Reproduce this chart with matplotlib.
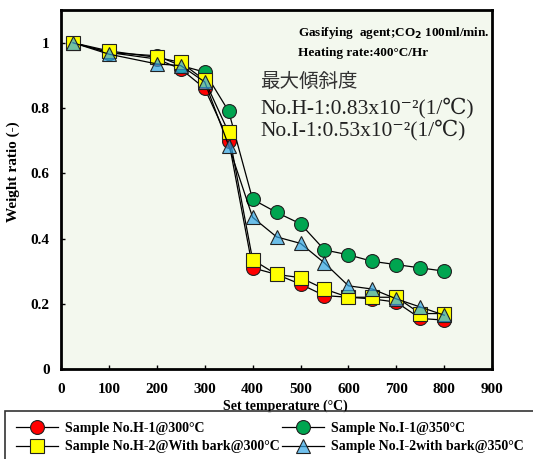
import numpy as np
import matplotlib.pyplot as plt

plt.rcParams['font.family'] = ['Liberation Serif', 'DejaVu Serif']

temp = [25, 100, 200, 250, 300, 350, 400, 450, 500, 550, 600, 650, 700, 750, 800]
h1 = [1.0, 0.97, 0.95, 0.92, 0.86, 0.70, 0.31, 0.29, 0.26, 0.225, 0.22, 0.215, 0.205, 0.155, 0.15]
i1 = [1.0, 0.97, 0.96, 0.93, 0.91, 0.79, 0.52, 0.48, 0.445, 0.365, 0.35, 0.33, 0.32, 0.31, 0.30]
h2 = [1.0, 0.975, 0.955, 0.94, 0.885, 0.725, 0.335, 0.29, 0.28, 0.245, 0.22, 0.22, 0.22, 0.17, 0.17]
i2 = [1.0, 0.965, 0.935, 0.93, 0.88, 0.685, 0.465, 0.405, 0.385, 0.325, 0.255, 0.245, 0.215, 0.19, 0.165]

labels = ['Sample No.H-1@300°C', 'Sample No.I-1@350°C',
          'Sample No.H-2@With bark@300°C', 'Sample No.I-2with bark@350°C']

fig = plt.figure(figsize=(5.33, 4.59), dpi=100)
ax = fig.add_axes([0.1144, 0.196, 0.809, 0.782])
ax.set_facecolor('#f3f8ee')

kw = dict(color='black', lw=0.9, markeredgecolor='#222222', markeredgewidth=0.8)
l1, = ax.plot(temp, h1, marker='o', ms=10, markerfacecolor='#ff0000', label=labels[0], **kw)
l2, = ax.plot(temp, i1, marker='o', ms=10, markerfacecolor='#00a550', label=labels[1], **kw)
l3, = ax.plot(temp, h2, marker='s', ms=10, markerfacecolor='#ffff00', label=labels[2], **kw)
l4, = ax.plot(temp, i2, marker='^', ms=10, markerfacecolor=(0.2, 0.65, 0.9, 0.7), label=labels[3], **kw)

ax.set_xlim(0, 900)
ax.set_ylim(0, 1.1)
ax.set_xticks(np.arange(0, 901, 100))
ax.set_yticks([0, 0.2, 0.4, 0.6, 0.8, 1])
ax.set_yticklabels(['0', '0.2', '0.4', '0.6', '0.8', '1'])
ax.tick_params(direction='in', length=3, width=1, labelsize=11)
ax.tick_params(axis='x', pad=10)
ax.tick_params(axis='y', pad=8)
for t in ax.get_xticklabels() + ax.get_yticklabels():
    t.set_fontweight('bold')
for s in ax.spines.values():
    s.set_linewidth(2)

ax.set_xlabel('Set temperature (°C)', fontsize=10, fontweight='bold')
ax.xaxis.set_label_coords(0.52, -0.085)
ax.set_ylabel('Weight ratio (-)', fontsize=11, fontweight='bold')
ax.yaxis.set_label_coords(-0.095, 0.55)

ax.text(0.995, 0.935, 'Gasifying  agent;CO$_\\mathbf{2}$ 100ml/min.', transform=ax.transAxes,
        ha='right', va='center', fontsize=9.5, fontweight='bold')
ax.text(0.55, 0.88, 'Heating rate:400°C/Hr', transform=ax.transAxes,
        ha='left', va='center', fontsize=9.5, fontweight='bold')
fam = ['Liberation Serif', 'DejaVu Serif', 'DejaVu Sans']
ax.text(0.462, 0.802, '最大傾斜度', transform=ax.transAxes, ha='left', va='center',
        fontsize=14, color='#333333', family=['Noto Sans CJK JP'])
ax.text(0.462, 0.727, 'No.H-1:0.83x10⁻²(1/℃)', transform=ax.transAxes, ha='left',
        va='center', fontsize=15.5, color='#222222', family=fam)
ax.text(0.462, 0.666, 'No.I-1:0.53x10⁻²(1/℃)', transform=ax.transAxes, ha='left',
        va='center', fontsize=15.5, color='#222222', family=fam)

leg = fig.legend(handles=[l1, l3, l2, l4], loc='upper left',
                 bbox_to_anchor=(0.009, 0.105),
                 ncol=2, frameon=True, fancybox=False, edgecolor='black',
                 prop={'weight': 'bold', 'size': 10}, handlelength=3.0,
                 columnspacing=0.2, handletextpad=0.5, borderaxespad=0,
                 labelspacing=0.4, borderpad=0.8)
leg.get_frame().set_linewidth(1.2)

fig.savefig('out.png', dpi=100)
